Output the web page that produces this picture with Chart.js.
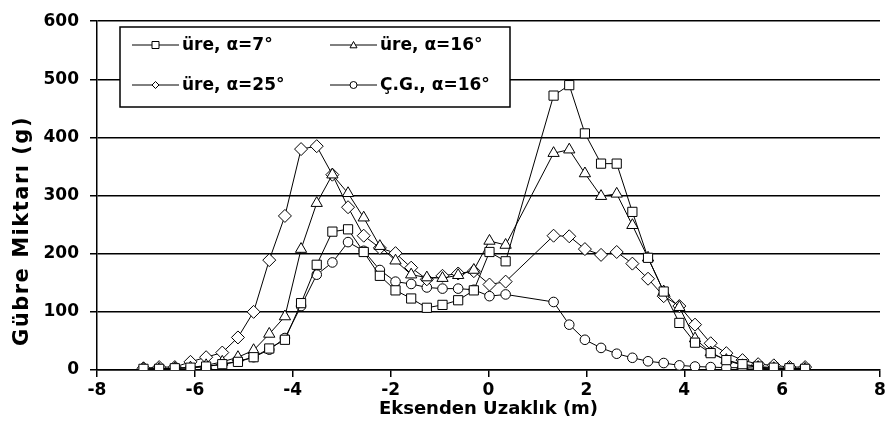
<!DOCTYPE html>
<html lang="tr">
<head>
<meta charset="UTF-8">
<title>Gübre Miktarı - Eksenden Uzaklık</title>
<script src="https://cdn.jsdelivr.net/npm/chart.js@4.4.1/dist/chart.umd.min.js"></script>
<style>
  html, body { margin: 0; padding: 0; background: #fff; }
</style>
</head>
<body>
<canvas id="chart" width="893" height="448"></canvas>
<script>
// distance from the axis (m), shared by all four series
const distances = [-7.05, -6.73, -6.41, -6.09, -5.77, -5.44, -5.12, -4.8, -4.48, -4.16,
                   -3.83, -3.51, -3.19, -2.87, -2.55, -2.22, -1.9, -1.58, -1.26, -0.94,
                   -0.62, -0.3, 0.02, 0.35, 1.33, 1.65, 1.97, 2.3, 2.62, 2.94,
                   3.26, 3.58, 3.9, 4.22, 4.54, 4.86, 5.19, 5.51, 5.83, 6.15, 6.47];

// fertilizer amount (g)
const ure7  = [2, 2, 3, 4, 6, 10, 14, 22, 37, 52,
               115, 181, 238, 242, 203, 162, 137, 123, 107, 112,
               120, 137, 203, 187, 472, 490, 407, 355, 355, 272,
               193, 135, 81, 47, 29, 17, 10, 6, 4, 3, 2];
const ure16 = [2, 2, 3, 4, 8, 14, 22, 34, 62, 92,
               208, 287, 336, 304, 262, 213, 188, 164, 159, 158,
               163, 172, 222, 215, 373, 379, 338, 299, 303, 249,
               193, 135, 108, 54, 30, 17, 8, 5, 3, 2, 2];
const ure25 = [3, 5, 5, 14, 22, 30, 56, 100, 189, 265,
               380, 385, 336, 280, 231, 210, 201, 176, 156, 162,
               166, 170, 147, 152, 231, 230, 208, 198, 203, 183,
               157, 127, 110, 78, 46, 29, 17, 10, 8, 5, 5];
const cg16  = [2, 2, 3, 4, 6, 10, 15, 22, 35, 55,
               110, 164, 185, 220, 205, 172, 152, 148, 142, 140,
               140, 138, 127, 130, 117, 78, 52, 38, 28, 21,
               15, 12, 8, 6, 5, 4, 4, 3, 2, 2, 2];

const seriesNames = ['üre, α=7°', 'üre, α=16°', 'üre, α=25°', 'Ç.G., α=16°'];
const markers = ['rect', 'triangle', 'rectRot', 'circle'];
const markerSizes = [6.5, 6.5, 6.5, 4.8];

const xTicks = [-8, -6, -4, -2, 0, 2, 4, 6, 8];
const yTicks = [0, 100, 200, 300, 400, 500, 600];
const xTitle = 'Eksenden Uzaklık (m)';
const yTitle = 'Gübre Miktarı (g)';

const FONT = 'DejaVu Sans';

function pairs(ys) {
  return distances.map((x, i) => ({ x: x, y: ys[i] }));
}

const datasets = [ure7, ure16, ure25, cg16].map((ys, i) => ({
  label: seriesNames[i],
  data: pairs(ys),
  borderColor: '#000',
  borderWidth: 1,
  pointStyle: markers[i],
  pointRadius: markerSizes[i],
  pointBackgroundColor: '#fff',
  pointBorderColor: '#000',
  pointBorderWidth: 1,
  tension: 0,
  showLine: true
}));

function drawMark(ctx, style, x, y, r) {
  ctx.beginPath();
  if (style === 'rect') {
    ctx.rect(x - r, y - r, 2 * r, 2 * r);
  } else if (style === 'triangle') {
    ctx.moveTo(x, y - r);
    ctx.lineTo(x + r, y + r * 0.8);
    ctx.lineTo(x - r, y + r * 0.8);
    ctx.closePath();
  } else if (style === 'rectRot') {
    ctx.moveTo(x, y - r);
    ctx.lineTo(x + r, y);
    ctx.lineTo(x, y + r);
    ctx.lineTo(x - r, y);
    ctx.closePath();
  } else {
    ctx.arc(x, y, r, 0, Math.PI * 2);
  }
  ctx.fill();
  ctx.stroke();
}

// boxed legend inside the plot, two columns, plus the rotated y title
const boxLegend = {
  id: 'boxLegend',
  afterDraw(chart) {
    const ctx = chart.ctx;
    ctx.save();
    ctx.fillStyle = '#fff';
    ctx.strokeStyle = '#000';
    ctx.lineWidth = 1.5;
    ctx.fillRect(120, 27, 390, 80);
    ctx.strokeRect(120, 27, 390, 80);

    const cols = [132, 330];
    const rows = [45, 85];
    ctx.font = 'bold 17px "' + FONT + '"';
    ctx.textBaseline = 'middle';
    chart.data.datasets.forEach((ds, i) => {
      const x0 = cols[i % 2];
      const y0 = rows[Math.floor(i / 2)];
      ctx.strokeStyle = '#000';
      ctx.lineWidth = 1;
      ctx.beginPath();
      ctx.moveTo(x0, y0);
      ctx.lineTo(x0 + 47, y0);
      ctx.stroke();
      ctx.fillStyle = '#fff';
      drawMark(ctx, ds.pointStyle, x0 + 23.5, y0, 3.5);
      ctx.fillStyle = '#000';
      ctx.fillText(ds.label, x0 + 50, y0 + 1);
    });

    // y axis title
    ctx.translate(23, 231);
    ctx.rotate(-Math.PI / 2);
    ctx.font = 'bold 21px "' + FONT + '"';
    if ('letterSpacing' in ctx) ctx.letterSpacing = '1.5px';
    ctx.textAlign = 'center';
    ctx.fillStyle = '#000';
    ctx.fillText(yTitle, 0, 0);
    ctx.restore();
  }
};

new Chart(document.getElementById('chart'), {
  type: 'line',
  data: { datasets: datasets },
  options: {
    responsive: false,
    animation: false,
    devicePixelRatio: 1,
    layout: { padding: { top: 15, right: 13, left: 0, bottom: 0 } },
    plugins: {
      legend: { display: false },
      tooltip: { enabled: false }
    },
    scales: {
      x: {
        type: 'linear',
        min: -8,
        max: 8,
        afterFit(s) { s.height = 78; },
        afterBuildTicks(s) { s.ticks = xTicks.map(v => ({ value: v })); },
        grid: { drawOnChartArea: false, color: '#000', lineWidth: 1.5, tickLength: 7 },
        border: { display: true, color: '#000', width: 1.5 },
        ticks: { color: '#000', padding: 3, maxRotation: 0, font: { family: FONT, weight: 'bold', size: 17 } },
        title: {
          display: true,
          text: xTitle,
          color: '#000',
          font: { family: FONT, weight: 'bold', size: 18 },
          padding: { top: 0, bottom: 28 }
        }
      },
      y: {
        min: 0,
        max: 600,
        afterFit(s) { s.width = 97; },
        afterBuildTicks(s) { s.ticks = yTicks.map(v => ({ value: v })); },
        grid: { color: '#000', lineWidth: 1.5, tickLength: 7 },
        border: { display: true, color: '#000', width: 1.5 },
        ticks: { color: '#000', padding: 11, font: { family: FONT, weight: 'bold', size: 17 } },
        title: { display: false }
      }
    }
  },
  plugins: [boxLegend]
});
</script>
</body>
</html>
